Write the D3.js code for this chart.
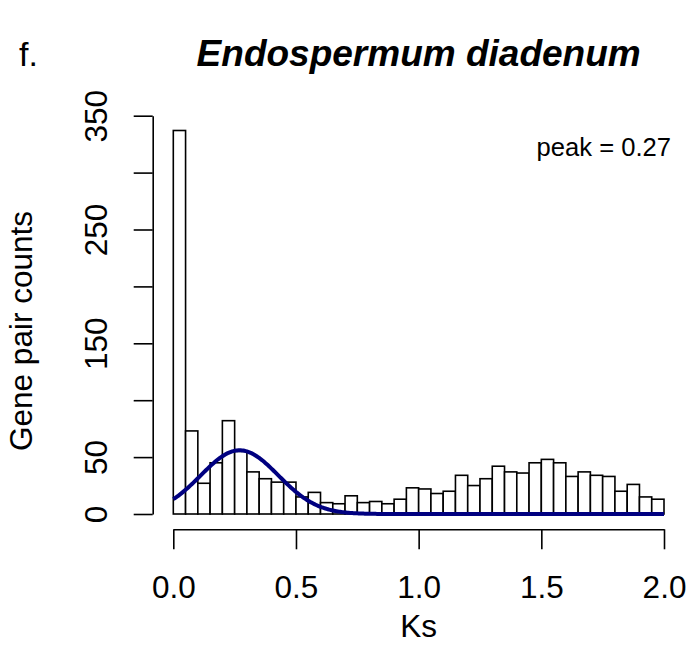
<!DOCTYPE html>
<html>
<head>
<meta charset="utf-8">
<script src="https://cdn.jsdelivr.net/npm/d3@7"></script>
<style>
  body { margin: 0; background: #fff; }
  svg { display: block; }
  text { font-family: "Liberation Sans", Arial, Helvetica, sans-serif; fill: #000; }
</style>
</head>
<body>
<div id="chart"></div>
<script>
// Ks histogram, bins of 0.05 from 0 to 2
const binWidth = 0.05;
const counts = [337, 73, 27, 45, 82, 55, 37, 31, 28, 28,
                15, 19, 10, 9, 16, 10, 11, 9, 13, 23,
                22, 18, 20, 34, 25, 31, 42, 37, 36, 45,
                48, 45, 33, 37, 34, 33, 20, 26, 15, 13];
const xTicks = [0, 0.5, 1.0, 1.5, 2.0];
const yTicks = [0, 50, 100, 150, 200, 250, 300, 350];
const yLabels = [0, 50, 150, 250, 350];

// fitted normal curve
const peak = 0.27;
const fitSd = 0.158;
const fitHeight = 56;

const width = 694, height = 646;

const svg = d3.select('#chart')
    .append('svg')
    .attr('width', width)
    .attr('height', height);

const x = d3.scaleLinear().domain([0, 2]).range([173.3, 664]);
const y = d3.scaleLinear().domain([0, 350]).range([514, 115.7]);

// bars
const bins = counts.map((c, i) => ({x0: i * binWidth, x1: (i + 1) * binWidth, n: c}));
svg.append('g')
    .selectAll('rect')
    .data(bins)
    .enter().append('rect')
    .attr('x', d => x(d.x0))
    .attr('y', d => y(d.n))
    .attr('width', d => x(d.x1) - x(d.x0))
    .attr('height', d => y(0) - y(d.n))
    .style('fill', '#fff')
    .style('stroke', '#000')
    .style('stroke-width', 1.6);

// normal fit
const curvePts = d3.range(0, 2.0001, 0.005)
    .map(k => [k, fitHeight * Math.exp(-Math.pow(k - peak, 2) / (2 * fitSd * fitSd))]);
const line = d3.line().x(d => x(d[0])).y(d => y(d[1]));
svg.append('path')
    .datum(curvePts)
    .attr('d', line)
    .style('fill', 'none')
    .style('stroke', '#000080')
    .style('stroke-width', 4);

// x axis
const xAxis = svg.append('g')
    .attr('transform', 'translate(0,529.3)')
    .call(d3.axisBottom(x).tickValues(xTicks).tickSize(20).tickSizeOuter(0)
        .tickFormat(d3.format('.1f')));
xAxis.select('.domain').style('stroke', '#000').style('stroke-width', 1.6);
xAxis.selectAll('.tick line').style('stroke', '#000').style('stroke-width', 1.6);
xAxis.selectAll('.tick text')
    .attr('y', 0).attr('dy', null)
    .attr('transform', 'translate(0,69)')
    .style('font-size', '31.5px')
    .style('font-family', '"Liberation Sans", Arial, sans-serif')
    .style('fill', '#000');

// y axis
const yAxis = svg.append('g')
    .attr('transform', 'translate(152.7,0)')
    .call(d3.axisLeft(y).tickValues(yTicks).tickSize(19).tickSizeOuter(0)
        .tickFormat(d => yLabels.includes(d) ? d : ''));
yAxis.select('.domain').style('stroke', '#000').style('stroke-width', 1.6);
yAxis.selectAll('.tick line').style('stroke', '#000').style('stroke-width', 1.6);
yAxis.selectAll('.tick text')
    .attr('x', 0).attr('dy', null)
    .attr('transform', 'translate(-46,0) rotate(-90)')
    .attr('text-anchor', 'middle')
    .style('font-size', '31.5px')
    .style('font-family', '"Liberation Sans", Arial, sans-serif')
    .style('fill', '#000');

// labels
svg.append('text')
    .attr('x', x(1)).attr('y', 637)
    .attr('text-anchor', 'middle')
    .style('font-size', '31.5px')
    .text('Ks');

svg.append('text')
    .attr('transform', 'translate(32,331) rotate(-90)')
    .attr('text-anchor', 'middle')
    .style('font-size', '31.5px')
    .text('Gene pair counts');

svg.append('text')
    .attr('x', x(1)).attr('y', 66)
    .attr('text-anchor', 'middle')
    .style('font-size', '37px')
    .style('font-weight', 'bold')
    .style('font-style', 'italic')
    .text('Endospermum diadenum');

svg.append('text')
    .attr('x', 19).attr('y', 66)
    .style('font-size', '34px')
    .text('f.');

svg.append('text')
    .attr('x', 671).attr('y', 155.5)
    .attr('text-anchor', 'end')
    .style('font-size', '25.6px')
    .text('peak = ' + peak);
</script>
</body>
</html>
